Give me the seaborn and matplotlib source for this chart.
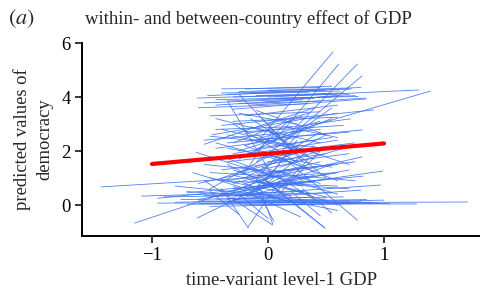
import matplotlib
matplotlib.use("Agg")
import matplotlib.pyplot as plt
import seaborn as sns
import pandas as pd
import numpy as np

# country-specific segments: start x, start y, end x, end y
seg_x0 = [-0.61,-0.52,-0.40,-0.35,-0.55,-0.25,-0.45,-0.30,-0.20,-0.10,0.00,-0.50,-0.40,-0.30,-0.45,-0.20,
          -0.10,0.10,0.20,0.15,-0.20,-0.35,-0.25,-0.55,-0.48,
          -0.95,-0.70,-0.40,-0.60,-0.30,-1.09,-0.90,-0.80,-0.20,-0.50,-1.44,-1.15,-0.95,-0.70,-0.60,-0.40,-0.30,-0.50,-0.20,
          -0.55,-0.10,0.15,-0.40,-0.61,-0.30,-0.17,0.04,0.49,
          -0.62,-0.50,-0.55,-0.45,-0.40,-0.35,-0.30,-0.25,-0.20,-0.15,-0.10,-0.05,-0.40,-0.30,-0.45,-0.20,-0.35,0.00,-0.25,
          -0.50,-0.15,-0.60,-0.30,-0.10,-0.20,0.05,-0.40,-0.05,-0.55,-0.15,0.10,-0.35,-0.25,-0.45,-0.10,-0.30,0.00,-0.20,
          -0.50,-0.05,0.15,-0.35,-0.15,-0.25,0.20,-0.40,
          -0.70,-0.80,-0.20,0.00,-0.10,-0.35,0.20,-0.50,-0.65,-0.30,
          -0.35,-0.15,-0.60,-0.40,-0.05,
          -0.30,-0.15,-0.45,0.00,-0.25,-0.35,0.05,
          -0.60,-0.45,-0.30,-0.75,-0.10,-0.55,0.00,
          -0.30,-0.20,-0.10,0.00,-0.25,-0.15,-0.05,-0.35,0.05,-0.20,-0.40,-0.10,0.10,-0.30,-0.05,
          0.00,-0.25,-0.15,0.15,-0.45,-0.20,0.05,-0.35,-0.05,0.00,-0.25,0.10,-0.10,-0.50,0.20,
          0.30,-0.25]
seg_y0 = [3.96,4.05,4.15,3.85,3.78,4.20,3.70,3.55,4.30,4.05,4.00,3.30,2.95,3.10,2.80,2.65,
          2.30,2.60,2.70,2.40,2.20,3.85,4.10,2.25,2.60,
          0.07,0.03,0.12,0.15,0.20,0.33,0.30,0.10,0.00,-0.05,0.67,-0.67,0.25,0.45,0.20,0.40,0.60,0.30,0.80,
          0.90,1.20,1.70,0.60,-0.48,0.70,-0.80,-0.70,-0.85,
          1.95,2.55,2.40,1.70,1.30,2.10,3.00,2.70,1.00,3.20,0.50,2.00,1.00,0.80,2.10,1.80,1.50,2.80,0.30,
          1.20,2.40,0.80,2.30,3.50,1.40,0.20,2.80,1.20,1.50,0.90,1.40,0.20,2.00,3.20,1.60,1.10,0.80,3.30,
          0.60,2.50,0.90,2.60,0.40,1.70,2.20,0.90,
          0.50,0.70,0.25,0.30,0.60,0.10,0.50,0.50,1.20,1.30,
          2.30,3.70,3.60,4.30,3.80,
          4.00,4.18,3.90,4.25,3.75,4.10,3.95,
          0.05,0.22,0.08,0.20,0.15,0.35,0.00,
          1.90,2.20,1.00,1.60,1.20,2.90,0.70,1.60,2.40,0.60,1.80,2.60,1.00,0.50,1.40,
          3.00,3.40,1.80,2.90,2.30,1.20,0.40,0.90,3.20,1.20,0.90,1.80,2.10,1.00,1.10,
          0.60,0.40]
seg_x1 = [0.55,0.70,0.62,0.75,0.40,0.80,0.30,0.85,0.55,0.65,1.30,0.45,0.91,0.60,0.20,0.71,
          0.56,0.61,0.77,0.81,1.40,0.05,0.30,0.40,0.60,
          1.72,1.28,1.05,0.90,0.70,0.30,0.20,0.50,0.95,0.40,0.60,0.30,0.40,0.50,0.70,0.99,0.82,0.97,0.81,
          0.04,0.49,0.77,-0.17,0.20,0.28,0.10,-0.10,0.00,
          0.30,0.50,0.45,0.60,0.70,0.55,0.40,0.65,0.50,0.35,0.40,0.60,0.30,0.45,0.25,0.75,0.20,0.50,0.55,
          0.35,0.70,0.25,0.30,0.50,0.60,0.45,0.20,0.75,0.15,0.35,0.65,0.25,0.40,0.10,0.55,0.50,0.70,0.60,
          0.00,0.45,0.60,0.35,0.10,0.15,0.70,0.60,
          0.30,0.15,0.80,0.60,0.05,0.30,0.45,-0.25,0.20,0.60,
          0.81,0.84,0.35,0.45,0.70,
          0.60,0.50,0.55,0.72,0.45,0.35,0.78,
          0.80,0.65,1.00,0.35,0.85,0.55,0.75,
          0.40,0.30,0.30,0.50,0.45,0.45,0.25,0.25,0.55,0.40,0.10,0.40,0.40,0.15,0.45,
          0.35,0.25,0.20,0.60,0.15,0.05,0.35,0.35,0.20,0.60,0.10,0.45,0.55,0.10,0.75,
          0.55,0.00]
seg_y1 = [4.12,4.30,4.22,4.05,3.95,4.35,3.90,3.93,4.40,4.15,4.26,3.45,3.52,3.25,2.90,3.19,
          5.67,5.22,5.22,4.78,4.22,1.00,1.60,3.60,3.40,
          0.11,0.04,0.05,0.10,0.15,0.50,0.38,0.22,0.08,0.02,1.20,1.40,0.85,0.95,1.30,1.26,1.07,0.74,1.78,
          -0.74,-0.85,-0.56,-0.85,1.20,-0.44,0.90,1.00,0.80,
          0.70,2.10,2.80,2.40,1.90,1.40,1.20,2.95,2.60,1.80,2.20,0.90,2.00,1.60,2.50,2.30,0.30,1.00,1.50,
          1.00,2.70,1.60,3.30,2.60,0.40,2.00,2.20,1.60,1.20,0.40,2.10,1.10,2.90,2.60,3.60,0.30,0.60,3.70,
          1.80,3.10,1.20,2.00,1.50,2.60,1.50,0.70,
          0.20,0.30,0.55,-0.20,-0.60,0.90,-0.40,-0.35,0.10,0.00,
          2.78,3.96,3.75,4.35,4.10,
          4.10,4.25,4.00,4.30,3.85,4.18,4.02,
          0.12,0.30,0.18,0.28,0.20,0.45,0.05,
          2.40,1.40,2.80,1.90,2.00,2.30,2.40,1.90,3.20,1.10,1.00,1.70,0.20,1.30,0.80,
          3.40,3.00,3.20,2.50,1.60,2.80,1.70,1.40,2.10,1.50,0.20,2.70,2.50,0.50,0.90,
          -0.30,-0.50]

# overall (pooled) fixed effect line
fix_x = [-1.0, 1.0]
fix_y = [1.52, 2.28]

rows = []
for i, (a, b, c, d) in enumerate(zip(seg_x0, seg_y0, seg_x1, seg_y1)):
    rows.append((i, a, b))
    rows.append((i, c, d))
df = pd.DataFrame(rows, columns=["country", "gdp", "dem"])
fix = pd.DataFrame({"gdp": fix_x, "dem": fix_y})

sns.set_theme(style="ticks")
plt.rcParams["font.family"] = ["Liberation Serif", "DejaVu Serif"]
plt.rcParams["mathtext.fontset"] = "stix"

fig = plt.figure(figsize=(4.81, 2.92), dpi=100)
ax = fig.add_axes([82/481, 1-236/292, 1-82/481, (236-43)/292])

sns.lineplot(data=df, x="gdp", y="dem", units="country", estimator=None,
             color="#3f72f0", linewidth=0.6, alpha=0.9, ax=ax, legend=False)
sns.lineplot(data=fix, x="gdp", y="dem", color="#ff0000", linewidth=3.0,
             ax=ax, legend=False)

ax.set_xlim((82-268)/116, (481-268)/116)
ax.set_ylim((205-236)/27, (205-43)/27)
ax.set_xticks([-1, 0, 1])
ax.set_yticks([0, 2, 4, 6])
ax.tick_params(labelsize=13.4, length=5, width=1.1, colors="black", pad=3)
for s in ["top", "right"]:
    ax.spines[s].set_visible(False)
for s in ["left", "bottom"]:
    ax.spines[s].set_linewidth(1.4)
    ax.spines[s].set_color("black")

ax.set_xlabel("time-variant level-1 GDP", fontsize=13.5, labelpad=6)
ax.set_ylabel("predicted values of\ndemocracy", fontsize=13.4, labelpad=6,
              linespacing=1.4)

fig.text(85/481, 1-19/292, "within- and between-country effect of GDP",
         fontsize=13.5, ha="left", va="center")
fig.text(8/481, 1-19/292, r"$(\mathit{a})$", fontsize=16, ha="left", va="center")

fig.savefig("out.png", dpi=100)
